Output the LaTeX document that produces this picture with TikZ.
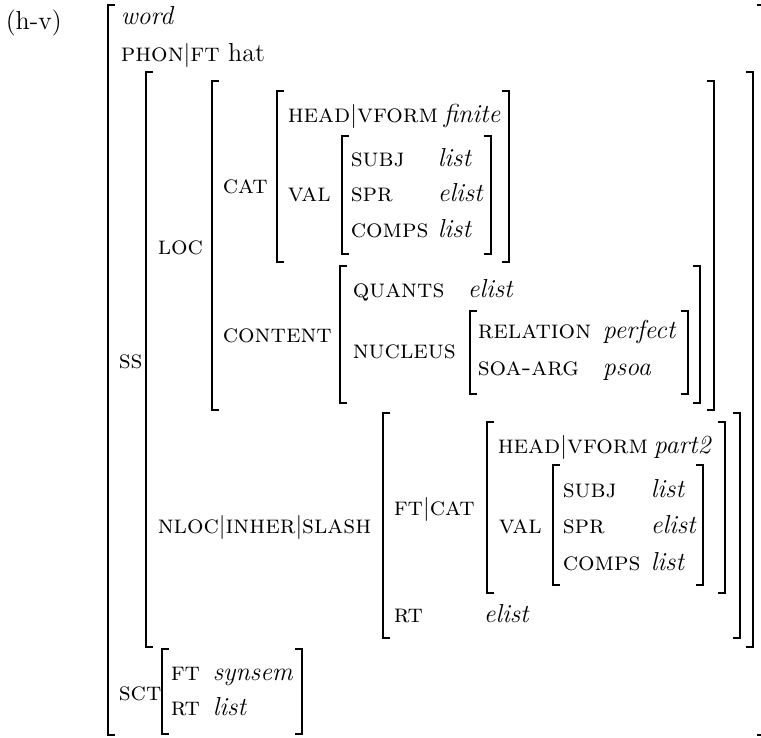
\documentclass[tikz,border=0pt]{standalone}
\usepackage{amsmath}
\newcommand{\att}[1]{\textsc{#1}}
\newcommand{\ty}[1]{\textit{#1}}
\newcommand{\pbar}{$|$}
% brackets: x, top, bottom
\newcommand{\lbr}[3]{\draw (#1+7,#2) -- (#1,#2) -- (#1,#3) -- (#1+7,#3);}
\newcommand{\rbr}[3]{\draw (#1-7,#2) -- (#1,#2) -- (#1,#3) -- (#1-7,#3);}

\begin{document}
\begin{tikzpicture}[x=0.5pt,y=-0.5pt,line width=0.8pt,
  every node/.style={inner sep=0pt,anchor=base west,font=\fontsize{13}{15}\selectfont}]
\useasboundingbox (0,0) rectangle (761,738);

\node (lbl) at (5,30) {(h-v)};
\node (word) at (120,25) {\ty{word}};
\node (phon) at (120,62) {\att{phon}\pbar\att{ft} hat};

% synsem
\node (ss) at (118,368) {\att{ss}};
\node (loc) at (157,255) {\att{loc}};
\node (cat) at (222,193) {\att{cat}};
\node (head) at (287,123) {\att{head}\pbar\att{vform}};
\node (fin) at (443,123) {\ty{finite}};
\node (val) at (287,202) {\att{val}};
\node (subj) at (350,167) {\att{subj}};
\node (spr) at (350,202) {\att{spr}};
\node (comps) at (350,237) {\att{comps}};
\node (subjv) at (437,167) {\ty{list}};
\node (sprv) at (437,202) {\ty{elist}};
\node (compsv) at (437,237) {\ty{list}};
\node (cont) at (222,342) {\att{content}};
\node (quants) at (352,297) {\att{quants}};
\node (quantsv) at (467,297) {\ty{elist}};
\node (nucl) at (352,358) {\att{nucleus}};
\node (rel) at (477,338) {\att{relation}};
\node (relv) at (602,338) {\ty{perfect}};
\node (soa) at (477,375) {\att{soa-arg}};
\node (soav) at (602,375) {\ty{psoa}};

% nonlocal
\node (nloc) at (157,533) {\att{nloc}\pbar\att{inher}\pbar\att{slash}};
\node (ftcat) at (393,515) {\att{ft}\pbar\att{cat}};
\node (head2) at (497,453) {\att{head}\pbar\att{vform}};
\node (part) at (653,453) {\ty{part2}};
\node (val2) at (498,533) {\att{val}};
\node (subj2) at (562,497) {\att{subj}};
\node (spr2) at (562,533) {\att{spr}};
\node (comps2) at (562,570) {\att{comps}};
\node (subjv2) at (650,497) {\ty{list}};
\node (sprv2) at (650,533) {\ty{elist}};
\node (compsv2) at (650,570) {\ty{list}};
\node (rt) at (393,622) {\att{rt}};
\node (rtv) at (483,622) {\ty{elist}};

% sct
\node (sct) at (118,700) {\att{sct}};
\node (ft) at (170,680) {\att{ft}};
\node (ftv) at (212,680) {\ty{synsem}};
\node (rt2) at (170,715) {\att{rt}};
\node (rtv2) at (212,715) {\ty{list}};

% brackets
\lbr{108}{5}{735} \rbr{764}{5}{735}
\lbr{146}{72}{647} \rbr{753}{72}{647}
\lbr{212}{81}{410} \rbr{714}{81}{410}
\lbr{277}{91}{262} \rbr{509}{91}{262}
\lbr{342}{136}{254} \rbr{491}{136}{254}
\lbr{340}{266}{403} \rbr{700}{266}{403}
\lbr{470}{311}{394} \rbr{688}{311}{394}
\lbr{383}{413}{638} \rbr{740}{413}{638}
\lbr{487}{422}{593} \rbr{725}{422}{593}
\lbr{553}{465}{585} \rbr{703}{465}{585}
\lbr{162}{649}{734} \rbr{302}{649}{734}
\end{tikzpicture}
\end{document}
